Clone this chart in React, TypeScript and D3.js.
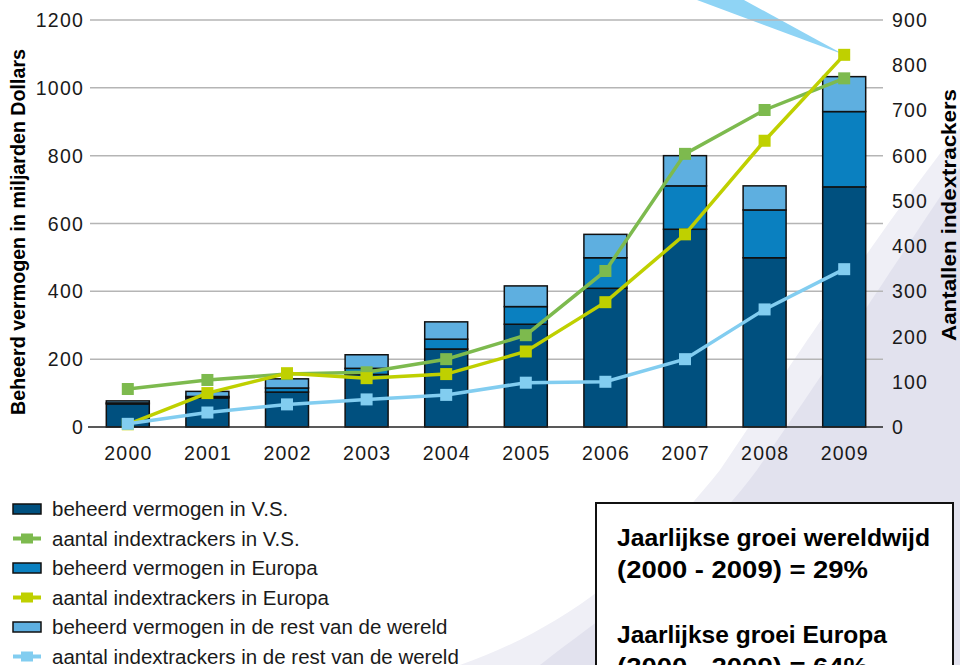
import React from "react";
import * as d3 from "d3";

const years = ["2000","2001","2002","2003","2004","2005","2006","2007","2008","2009"];
const assetsUS = [68, 86, 103, 155, 230, 303, 409, 583, 499, 708];
const assetsEurope = [3, 4, 12, 18, 29, 52, 90, 128, 141, 222];
const assetsRest = [6, 15, 27, 40, 51, 61, 69, 89, 71, 103];
const countUS = [84, 104, 117, 121, 150, 203, 345, 604, 701, 771];
const countEurope = [6, 75, 119, 108, 117, 167, 276, 426, 633, 823];
const countRest = [7, 32, 50, 61, 71, 98, 100, 150, 260, 349];
const leftTicks = [0, 200, 400, 600, 800, 1000, 1200];
const rightTicks = [0, 100, 200, 300, 400, 500, 600, 700, 800, 900];

const legendItems = [
  { type: "bar", color: "#00507f", label: "beheerd vermogen in V.S." },
  { type: "line", color: "#7dba4e", label: "aantal indextrackers in V.S." },
  { type: "bar", color: "#0a80c0", label: "beheerd vermogen in Europa" },
  { type: "line", color: "#bfd000", label: "aantal indextrackers in Europa" },
  { type: "bar", color: "#5eafe0", label: "beheerd vermogen in de rest van de wereld" },
  { type: "line", color: "#82cdf0", label: "aantal indextrackers in de rest van de wereld" },
];

const barColors = ["#00507f", "#0a80c0", "#5eafe0"];
const lineColors = ["#7dba4e", "#bfd000", "#82cdf0"];

export default function App() {
  const x = d3.scaleBand<string>().domain(years).range([88, 884]).paddingInner(0.46).paddingOuter(0.23);
  const yL = d3.scaleLinear().domain([0, 1200]).range([427, 20]);
  const yR = d3.scaleLinear().domain([0, 900]).range([427, 20]);

  const stackData = years.map((yr, i) => ({ year: yr, us: assetsUS[i], eu: assetsEurope[i], rest: assetsRest[i] }));
  const stack = d3.stack<any>().keys(["us", "eu", "rest"])(stackData);

  const lines = [countUS, countEurope, countRest];
  const lineGen = d3.line<number>()
    .x((_, i) => (x(years[i]) as number) + x.bandwidth() / 2)
    .y((d) => yR(d));

  const font = "'Liberation Sans', Arial, sans-serif";
  const ms = 12;
  const apex = { x: (x("2009") as number) + x.bandwidth() / 2, y: yR(countEurope[9]) };

  return (
    <svg width={960} height={665} style={{ position: "absolute", left: 0, top: 0, background: "#fff" }} fontFamily={font}>
      {/* background swoosh */}
      <path d="M960,128 C915,185 860,260 720,470 C640,570 560,630 460,665 L960,665 Z" fill="#efeff6" />
      <path d="M960,168 C920,225 860,320 757,470 C690,560 610,610 540,665 L960,665 Z" fill="#e2e2ee" />
      {/* callout wedge */}
      <path d={`M697,0 L744,0 L${apex.x},${apex.y} Z`} fill="#8fd4f5" />
      {/* gridlines */}
      {leftTicks.filter((t) => t > 0).map((t) => (
        <line key={t} x1={90} x2={883} y1={yL(t)} y2={yL(t)} stroke="#b5b5b5" strokeWidth={1.5} />
      ))}
      {/* bars */}
      {stack.map((layer, li) => (
        <g key={li}>
          {layer.map((d, i) => (
            <rect key={i} x={(x(years[i]) as number)} width={x.bandwidth()} y={yL(d[1])} height={yL(d[0]) - yL(d[1])}
              fill={barColors[li]} stroke="#111" strokeWidth={1.5} />
          ))}
        </g>
      ))}
      <line x1={88} x2={883} y1={yL(0)} y2={yL(0)} stroke="#222" strokeWidth={1.5} />
      {/* lines */}
      {lines.map((vals, li) => (
        <g key={li}>
          <path d={lineGen(vals) as string} fill="none" stroke={lineColors[li]} strokeWidth={3.5} />
          {vals.map((v, i) => (
            <rect key={i} x={(x(years[i]) as number) + x.bandwidth() / 2 - ms / 2} y={yR(v) - ms / 2} width={ms} height={ms} fill={lineColors[li]} />
          ))}
        </g>
      ))}
      {/* left axis labels */}
      {leftTicks.map((t) => (
        <text key={t} x={84} y={yL(t)} dy="0.36em" textAnchor="end" fontSize={19.5} letterSpacing={1.2} fill="#1a1a1a">{t}</text>
      ))}
      {/* right axis labels */}
      {rightTicks.map((t) => (
        <text key={t} x={892} y={yR(t)} dy="0.36em" textAnchor="start" fontSize={19.5} letterSpacing={1.2} fill="#1a1a1a">{t}</text>
      ))}
      {/* x labels */}
      {years.map((yr) => (
        <text key={yr} x={(x(yr) as number) + x.bandwidth() / 2 + 0.6} y={460} textAnchor="middle" fontSize={19.5} letterSpacing={1.2} fill="#1a1a1a">{yr}</text>
      ))}
      {/* axis titles */}
      <text transform="translate(25,232) rotate(-90)" textAnchor="middle" fontWeight="bold" fontSize={19.5} textLength={366} lengthAdjust="spacingAndGlyphs" fill="#000">Beheerd vermogen in miljarden Dollars</text>
      <text transform="translate(956,215) rotate(-90)" textAnchor="middle" fontWeight="bold" fontSize={21} textLength={252} lengthAdjust="spacingAndGlyphs" fill="#000">Aantallen indextrackers</text>
      {/* legend */}
      {legendItems.map((it, i) => {
        const cy = 509 + i * 29.5;
        return (
          <g key={i}>
            {it.type === "bar" ? (
              <rect x={13} y={cy - 5} width={28} height={10} fill={it.color} stroke="#111" strokeWidth={1.5} />
            ) : (
              <g>
                <line x1={13} x2={41} y1={cy} y2={cy} stroke={it.color} strokeWidth={4} />
                <rect x={21} y={cy - 5} width={12} height={10} fill={it.color} />
              </g>
            )}
            <text x={52} y={cy} dy="0.36em" fontSize={20.5} fill="#1a1a1a">{it.label}</text>
          </g>
        );
      })}
      {/* info box */}
      <rect x={596} y={503} width={357} height={200} fill="#fff" stroke="#111" strokeWidth={2} />
      <g fontWeight="bold" fontSize={24} fill="#000">
        <text x={617} y={546} textLength={313} lengthAdjust="spacingAndGlyphs">Jaarlijkse groei wereldwijd</text>
        <text x={617} y={578} textLength={251} lengthAdjust="spacingAndGlyphs">(2000 - 2009) = 29%</text>
        <text x={617} y={643} textLength={270} lengthAdjust="spacingAndGlyphs">Jaarlijkse groei Europa</text>
        <text x={617} y={675} textLength={251} lengthAdjust="spacingAndGlyphs">(2000 - 2009) = 64%</text>
      </g>
    </svg>
  );
}
